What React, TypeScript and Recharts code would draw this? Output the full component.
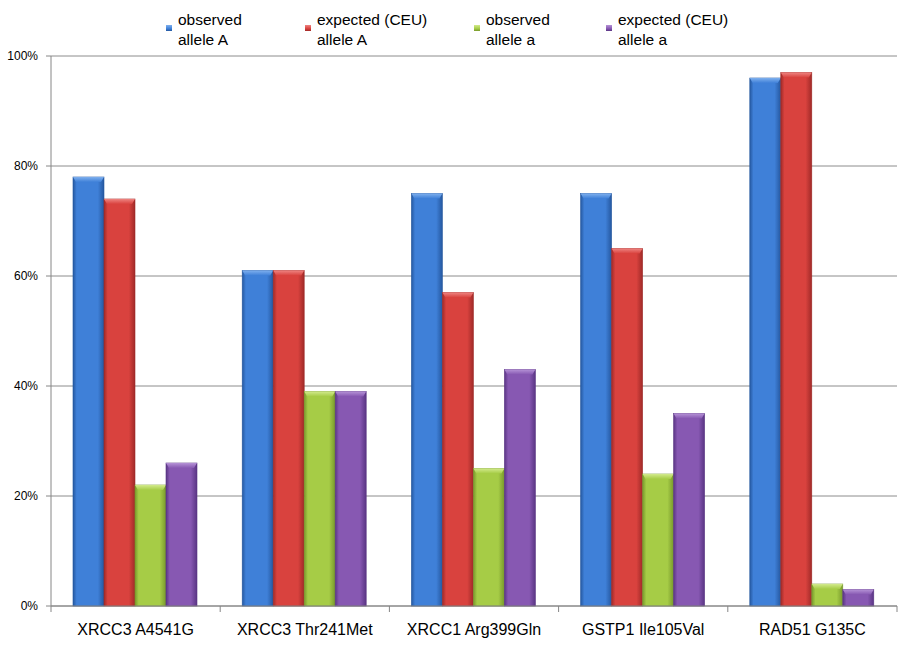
import { BarChart, Bar, XAxis, YAxis, CartesianGrid, Legend } from 'recharts'

const genes = ['XRCC3 A4541G', 'XRCC3 Thr241Met', 'XRCC1 Arg399Gln', 'GSTP1 Ile105Val', 'RAD51 G135C']
const observedA = [78, 61, 75, 75, 96]
const expectedA = [74, 61, 57, 65, 97]
const observedLower = [22, 39, 25, 24, 4]
const expectedLower = [26, 39, 43, 35, 3]
const yTicks = [0, 20, 40, 60, 80, 100]

const seriesInfo = [
  { key: 'obsA', line1: 'observed', line2: 'allele A', main: '#3f80d8', dark: '#2558a0', light: '#7fb0ee' },
  { key: 'expA', line1: 'expected (CEU)', line2: 'allele A', main: '#d9423e', dark: '#a02a28', light: '#ee8481' },
  { key: 'obsa', line1: 'observed', line2: 'allele a', main: '#a6cc46', dark: '#78992c', light: '#d2ea8c' },
  { key: 'expa', line1: 'expected (CEU)', line2: 'allele a', main: '#8758b2', dark: '#5a3584', light: '#b592d6' },
]

const data = genes.map((g, i) => ({
  gene: g,
  obsA: observedA[i],
  expA: expectedA[i],
  obsa: observedLower[i],
  expa: expectedLower[i],
}))

const font = '"Liberation Sans", Arial, sans-serif'

function BevelBar(props: any) {
  const { x, y, width, height, idx } = props
  if (!height || height <= 0) return null
  const s = seriesInfo[idx]
  const b = Math.min(5, height)
  return (
    <g>
      <rect x={x} y={y} width={width} height={height} fill={`url(#grad-${s.key})`} stroke={s.dark} strokeWidth={0.6} />
      <polygon
        points={`${x},${y} ${x + width},${y} ${x + width - 3},${y + b} ${x + 3},${y + b}`}
        fill={`url(#top-${s.key})`}
      />
    </g>
  )
}

function CategoryTick(props: any) {
  const { x, y, payload, index } = props
  const half = payload.offset || 0
  return (
    <g>
      <line x1={x - half} y1={y} x2={x - half} y2={y + 6} stroke="#868686" />
      {index === genes.length - 1 && (
        <line x1={x + half} y1={y} x2={x + half} y2={y + 6} stroke="#868686" />
      )}
      <text x={x} y={y + 29} textAnchor="middle" fontSize={16} fontFamily={font} fill="#000">
        {payload.value}
      </text>
    </g>
  )
}

function TopLegend() {
  const pos = [178, 317, 486, 618]
  return (
    <div style={{ position: 'relative', height: 56, width: 908 }}>
      {seriesInfo.map((s, i) => (
        <div key={s.key} style={{ position: 'absolute', left: pos[i] - 12, top: 10 }}>
          <div style={{
            position: 'absolute', left: 0, top: 15, width: 6, height: 6,
            background: `linear-gradient(${s.light}, ${s.main} 60%, ${s.dark})`,
          }} />
          <div style={{ marginLeft: 12, fontFamily: font, fontSize: 15.5, lineHeight: '20px', color: '#000', whiteSpace: 'nowrap' }}>
            {s.line1}<br />{s.line2}
          </div>
        </div>
      ))}
    </div>
  )
}

export default function App() {
  return (
    <div style={{ position: 'absolute', left: 0, top: 0, background: '#fff' }}>
      <BarChart
        width={908}
        height={651}
        data={data}
        margin={{ top: 0, right: 11, bottom: 15, left: 0 }}
        barCategoryGap="13%"
        barGap={0}
      >
        <defs>
          {seriesInfo.map(s => (
            <linearGradient key={s.key} id={`grad-${s.key}`} x1="0" y1="0" x2="1" y2="0">
              <stop offset="0%" stopColor={s.dark} />
              <stop offset="12%" stopColor={s.main} />
              <stop offset="80%" stopColor={s.main} />
              <stop offset="100%" stopColor={s.dark} />
            </linearGradient>
          ))}
          {seriesInfo.map(s => (
            <linearGradient key={s.key} id={`top-${s.key}`} x1="0" y1="0" x2="0" y2="1">
              <stop offset="0%" stopColor={s.light} />
              <stop offset="100%" stopColor={s.main} />
            </linearGradient>
          ))}
        </defs>
        <CartesianGrid vertical={false} stroke="#8c8c8c" />
        <XAxis
          dataKey="gene"
          axisLine={{ stroke: '#868686' }}
          tickLine={false}
          tickSize={0}
          tickMargin={0}
          tick={<CategoryTick />}
          interval={0}
        />
        <YAxis
          width={51}
          domain={[0, 100]}
          ticks={yTicks}
          tickFormatter={(v: number) => `${v}%`}
          axisLine={{ stroke: '#868686' }}
          tickLine={{ stroke: '#868686' }}
          tickSize={5}
          tickMargin={8}
          tick={{ fontSize: 12, fill: '#000', fontFamily: font }}
        />
        <Legend verticalAlign="top" align="left" content={() => <TopLegend />} wrapperStyle={{ top: 0, left: 0 }} />
        {seriesInfo.map((s, i) => (
          <Bar
            key={s.key}
            dataKey={s.key}
            fill={s.main}
            isAnimationActive={false}
            shape={(p: any) => <BevelBar {...p} idx={i} />}
          />
        ))}
      </BarChart>
    </div>
  )
}
